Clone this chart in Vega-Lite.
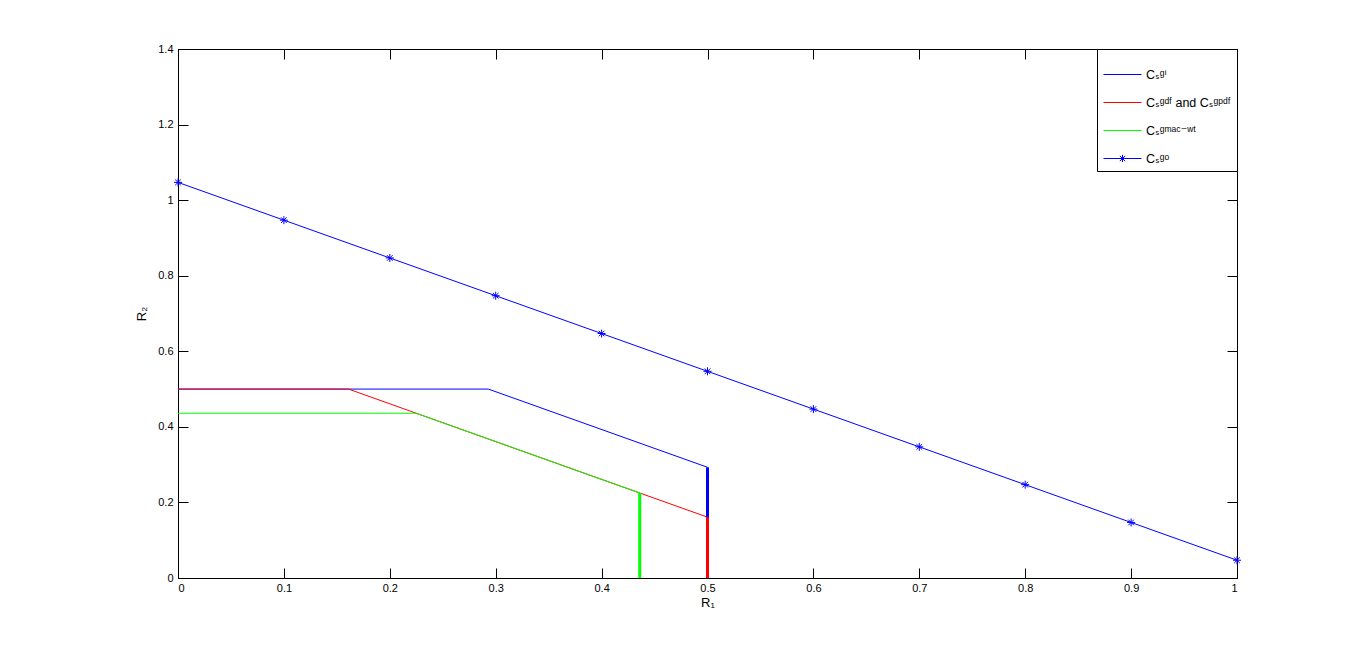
{
  "$schema": "https://vega.github.io/schema/vega-lite/v6.json",
  "width": 1059,
  "height": 529,
  "autosize": "none",
  "padding": {"left": 178, "top": 49, "right": 129, "bottom": 72},
  "background": "white",
  "config": {
    "font": "Liberation Sans, DejaVu Sans, sans-serif",
    "view": {"stroke": "black", "strokeWidth": 1},
    "axis": {
      "grid": false,
      "domainColor": "black",
      "tickColor": "black",
      "tickSize": -10,
      "labelColor": "black",
      "labelFontSize": 11,
      "labelFont": "Liberation Sans, DejaVu Sans, sans-serif",
      "titleColor": "black",
      "titleFontSize": 13,
      "titleFontWeight": "normal",
      "titleFont": "Liberation Sans, DejaVu Sans, sans-serif"
    },
    "legend": {
      "orient": "top-right",
      "offset": 0,
      "strokeColor": "black",
      "fillColor": "white",
      "padding": 6,
      "symbolType": "stroke",
      "symbolSize": 1444,
      "symbolStrokeWidth": 1,
      "labelFontSize": 12.5,
      "labelColor": "black",
      "labelOffset": 4,
      "rowPadding": 2,
      "labelFont": "Liberation Sans, DejaVu Sans, sans-serif"
    }
  },
  "datasets": {
    "thin": [
      {"series": "gi", "x": 0, "y": 0.5, "o": 1},
      {"series": "gi", "x": 0.293, "y": 0.5, "o": 2},
      {"series": "gi", "x": 0.5, "y": 0.293, "o": 3},
      {"series": "gdf", "x": 0, "y": 0.5, "o": 1},
      {"series": "gdf", "x": 0.161, "y": 0.5, "o": 2},
      {"series": "gdf", "x": 0.5, "y": 0.161, "o": 3},
      {"series": "gmac", "x": 0, "y": 0.436, "o": 1},
      {"series": "gmac", "x": 0.225, "y": 0.436, "o": 2},
      {"series": "gmac", "x": 0.436, "y": 0.225, "o": 3},
      {"series": "go", "x": 0, "y": 1.047, "o": 1},
      {"series": "go", "x": 0.1, "y": 0.947, "o": 2},
      {"series": "go", "x": 0.2, "y": 0.847, "o": 3},
      {"series": "go", "x": 0.3, "y": 0.747, "o": 4},
      {"series": "go", "x": 0.4, "y": 0.647, "o": 5},
      {"series": "go", "x": 0.5, "y": 0.547, "o": 6},
      {"series": "go", "x": 0.6, "y": 0.447, "o": 7},
      {"series": "go", "x": 0.7, "y": 0.347, "o": 8},
      {"series": "go", "x": 0.8, "y": 0.247, "o": 9},
      {"series": "go", "x": 0.9, "y": 0.147, "o": 10},
      {"series": "go", "x": 1.0, "y": 0.047, "o": 11}
    ],
    "thick": [
      {"series": "gi", "x": 0.5, "y": 0.293, "o": 1},
      {"series": "gi", "x": 0.5, "y": 0, "o": 2},
      {"series": "gdf", "x": 0.5, "y": 0.161, "o": 1},
      {"series": "gdf", "x": 0.5, "y": 0, "o": 2},
      {"series": "gmac", "x": 0.436, "y": 0.225, "o": 1},
      {"series": "gmac", "x": 0.436, "y": 0, "o": 2}
    ]
  },
  "layer": [
    {
      "data": {"name": "thin"},
      "transform": [{"filter": "datum.series == 'gi'"}],
      "mark": {"type": "line", "strokeWidth": 1},
      "encoding": {
        "x": {
          "field": "x", "type": "quantitative",
          "scale": {"domain": [0, 1], "nice": false, "zero": false},
          "axis": {"orient": "bottom", "values": [0, 0.1, 0.2, 0.3, 0.4, 0.5, 0.6, 0.7, 0.8, 0.9, 1], "format": "~g", "title": "R₁", "labelPadding": 14, "titlePadding": 3}
        },
        "y": {
          "field": "y", "type": "quantitative",
          "scale": {"domain": [0, 1.4], "nice": false, "zero": false},
          "axis": {"orient": "left", "values": [0, 0.2, 0.4, 0.6, 0.8, 1, 1.2, 1.4], "format": "~g", "title": "R₂", "labelPadding": 15, "titlePadding": 9}
        },
        "color": {
          "field": "series", "type": "nominal",
          "scale": {"domain": ["gi", "gdf", "gmac", "go"], "range": ["#0000ff", "#ff0000", "#00ff00", "#0000ff"]},
          "legend": {
            "title": null,
            "labelExpr": "datum.value == 'gi' ? 'Cₛᵍⁱ' : datum.value == 'gdf' ? 'Cₛᵍᵈᶠ and Cₛᵍᵖᵈᶠ' : datum.value == 'gmac' ? 'Cₛᵍᵐᵃᶜ⁻ʷᵗ' : 'Cₛᵍᵒ'",
            "encode": {
              "symbols": {
                "update": {
                  "shape": {"signal": "datum.value == 'go' ? 'M-1,0L1,0M0,-0.19L0,0.19M-0.14,-0.14L0.14,0.14M-0.14,0.14L0.14,-0.14' : 'stroke'"}
                }
              }
            }
          }
        },
        "order": {"field": "o", "type": "quantitative"}
      }
    },
    {
      "data": {"name": "thin"},
      "transform": [{"filter": "datum.series == 'gdf'"}],
      "mark": {"type": "line", "strokeWidth": 1},
      "encoding": {
        "x": {"field": "x", "type": "quantitative", "axis": {"orient": "top", "values": [0, 0.1, 0.2, 0.3, 0.4, 0.5, 0.6, 0.7, 0.8, 0.9, 1], "labels": false, "title": null}},
        "y": {"field": "y", "type": "quantitative", "axis": {"orient": "right", "values": [0, 0.2, 0.4, 0.6, 0.8, 1, 1.2, 1.4], "labels": false, "title": null}},
        "color": {"field": "series", "type": "nominal"},
        "order": {"field": "o", "type": "quantitative"}
      }
    },
    {
      "data": {"name": "thin"},
      "transform": [{"filter": "datum.series == 'gmac'"}],
      "mark": {"type": "line", "strokeWidth": 1},
      "encoding": {
        "x": {"field": "x", "type": "quantitative", "axis": null},
        "y": {"field": "y", "type": "quantitative", "axis": null},
        "color": {"field": "series", "type": "nominal"},
        "order": {"field": "o", "type": "quantitative"}
      }
    },
    {
      "data": {"name": "thin"},
      "transform": [{"filter": "datum.series == 'go'"}],
      "mark": {"type": "line", "strokeWidth": 1},
      "encoding": {
        "x": {"field": "x", "type": "quantitative", "axis": null},
        "y": {"field": "y", "type": "quantitative", "axis": null},
        "color": {"field": "series", "type": "nominal"},
        "order": {"field": "o", "type": "quantitative"}
      }
    },
    {
      "data": {"name": "thick"},
      "mark": {"type": "line", "strokeWidth": 3},
      "encoding": {
        "x": {"field": "x", "type": "quantitative", "axis": null},
        "y": {"field": "y", "type": "quantitative", "axis": null},
        "color": {"field": "series", "type": "nominal"},
        "order": {"field": "o", "type": "quantitative"}
      }
    },
    {
      "data": {"name": "thin"},
      "transform": [{"filter": "datum.series == 'go'"}],
      "mark": {"type": "point", "shape": "M-1,0L1,0M0,-1L0,1M-0.7,-0.7L0.7,0.7M-0.7,0.7L0.7,-0.7", "size": 64, "filled": false, "color": "#0000ff", "strokeWidth": 1, "opacity": 1},
      "encoding": {
        "x": {"field": "x", "type": "quantitative", "axis": null},
        "y": {"field": "y", "type": "quantitative", "axis": null}
      }
    }
  ],
  "resolve": {"axis": {"x": "independent", "y": "independent"}}
}
